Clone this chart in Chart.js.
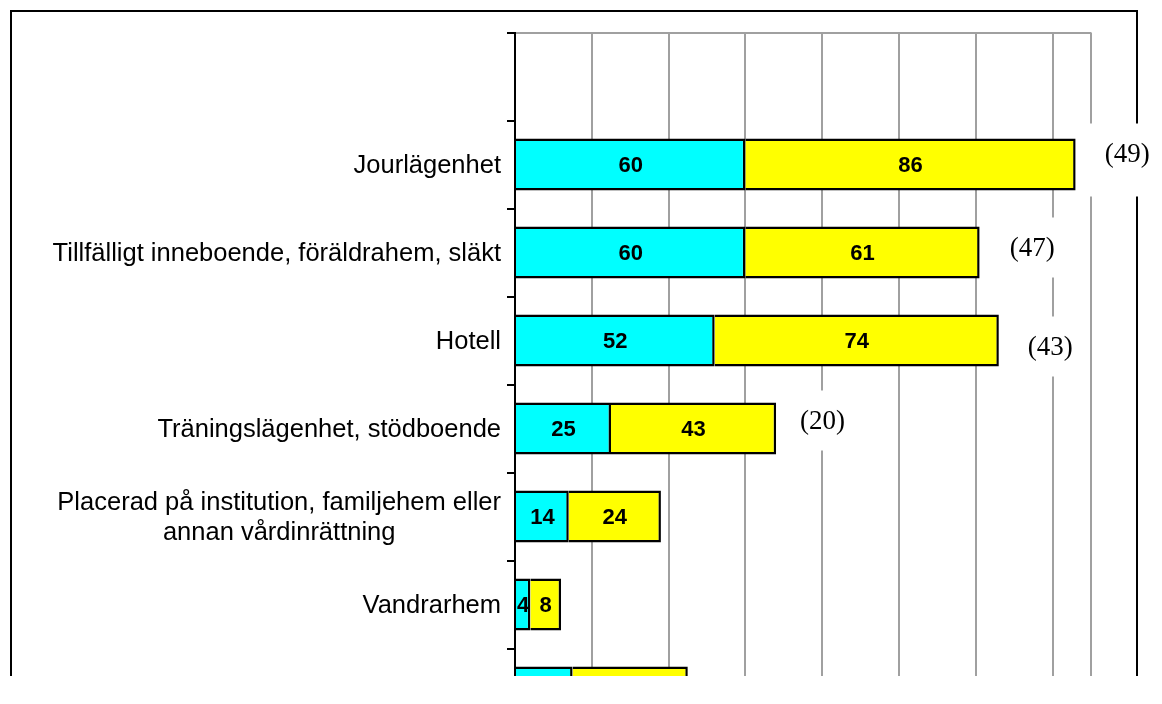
<!DOCTYPE html>
<html><head><meta charset="utf-8">
<script src="https://cdn.jsdelivr.net/npm/chart.js@4/dist/chart.umd.min.js"></script>
<style>
html,body{margin:0;padding:0;background:#fff;}
#wrap{position:relative;width:1162px;height:676px;overflow:hidden;background:#fff;}
canvas{display:block;}
</style></head><body>
<div id="wrap"><canvas id="c" width="1162" height="760"></canvas></div>
<script>
// ---- data ----
const categories = [
  "",
  "Jourlägenhet",
  "Tillfälligt inneboende, föräldrahem, släkt",
  "Hotell",
  "Träningslägenhet, stödboende",
  ["Placerad på institution, familjehem eller", "annan vårdinrättning"],
  "Vandrarhem",
  ""
];
const seriesCyan   = [null, 60, 60, 52, 25, 14, 4, 15];
const seriesYellow = [null, 86, 61, 74, 43, 24, 8, 30];
const respondents  = [null, 49, 47, 43, 20, null, null, null];
const xTickValues  = [0, 20, 40, 60, 80, 100, 120, 140, 150];

// ---- drawing helpers ----
const SANS = '"Liberation Sans", Arial, sans-serif';
const SERIF = '"Liberation Serif", "Times New Roman", serif';

const decor = {
  id: 'decor',
  beforeDraw(chart) {
    const ctx = chart.ctx;
    ctx.save();
    ctx.fillStyle = '#fff';
    ctx.fillRect(0, 0, chart.width, chart.height);
    ctx.strokeStyle = '#000';
    ctx.lineWidth = 2;
    ctx.beginPath();
    ctx.moveTo(11, chart.height + 10);
    ctx.lineTo(11, 11);
    ctx.lineTo(1137, 11);
    ctx.lineTo(1137, chart.height + 10);
    ctx.stroke();
    ctx.restore();
  },
  afterDatasetsDraw(chart, args, opts) {
    const ctx = chart.ctx;
    const yScale = chart.scales.y;
    const area = chart.chartArea;
    ctx.save();
    // category labels
    ctx.fillStyle = '#000';
    ctx.font = '25.5px ' + SANS;
    ctx.textBaseline = 'middle';
    const right = area.left - 14;
    categories.forEach((lab, i) => {
      const lines = Array.isArray(lab) ? lab : [lab];
      if (!lines.join('')) return;
      const y0 = yScale.getPixelForValue(i);
      const lh = 30;
      const widest = Math.max(...lines.map(l => ctx.measureText(l).width));
      ctx.textAlign = 'center';
      lines.forEach((l, k) => {
        const y = y0 + (k - (lines.length - 1) / 2) * lh;
        ctx.fillText(l, right - widest / 2, y + 1);
      });
    });
    // values inside bars
    ctx.font = 'bold 22px ' + SANS;
    ctx.textAlign = 'center';
    chart.data.datasets.forEach((ds, di) => {
      const meta = chart.getDatasetMeta(di);
      meta.data.forEach((bar, i) => {
        const v = ds.data[i];
        if (v === null || v === undefined) return;
        ctx.fillText(String(v), (bar.x + bar.base) / 2, bar.y + 1);
      });
    });
    // respondent counts with white boxes
    ctx.font = '27px ' + SERIF;
    ctx.textAlign = 'left';
    const last = chart.getDatasetMeta(chart.data.datasets.length - 1);
    respondents.forEach((n, i) => {
      if (n === null) return;
      const bar = last.data[i];
      const txt = '(' + n + ')';
      const w = ctx.measureText(txt).width;
      const x = bar.x + opts.dx[i];
      const y = bar.y + opts.dy[i];
      ctx.fillStyle = '#fff';
      ctx.fillRect(x - 17, y - 30, w + 34, 60 + opts.extraBottom[i]);
      ctx.fillStyle = '#000';
      ctx.fillText(txt, x, y + 1);
    });
    ctx.restore();
  }
};

const gridGray = '#a0a0a0';

new Chart(document.getElementById('c'), {
  type: 'bar',
  data: {
    labels: categories,
    datasets: [
      { data: seriesCyan, backgroundColor: '#00ffff', borderColor: '#000', borderWidth: 2.5 },
      { data: seriesYellow, backgroundColor: '#ffff00', borderColor: '#000', borderWidth: 2.5 }
    ]
  },
  options: {
    indexAxis: 'y',
    responsive: false,
    animation: false,
    devicePixelRatio: 1,
    layout: { padding: { left: 0, right: 71, top: 32.5, bottom: 0 } },
    datasets: { bar: { categoryPercentage: 1, barPercentage: 0.59 } },
    plugins: {
      legend: { display: false },
      tooltip: { enabled: false },
      decor: {
        dx: [0, 29, 30, 29, 24, 0, 0, 0],
        dy: [0, -11, -5, 6, -8, 0, 0, 0],
        extraBottom: [0, 13, 0, 0, 0, 0, 0, 0]
      }
    },
    scales: {
      x: {
        stacked: true,
        min: xTickValues[0], max: xTickValues[xTickValues.length - 1],
        afterBuildTicks(axis) { axis.ticks = xTickValues.map(v => ({ value: v })); },
        ticks: { color: '#000', font: { family: SANS, size: 18 } },
        grid: { color: gridGray, lineWidth: 2, drawTicks: false },
        border: { display: false },
        afterFit(axis) { axis.height = 23.5; }
      },
      y: {
        stacked: true,
        ticks: { display: false },
        grid: {
          offset: true,
          drawOnChartArea: true,
          color: ctx => ctx.index === 0 ? gridGray : 'rgba(0,0,0,0)',
          lineWidth: 2,
          drawTicks: true,
          tickLength: 8,
          tickColor: '#000',
          tickWidth: 2
        },
        border: { display: true, color: '#000', width: 2 },
        afterFit(axis) { axis.width = 515; }
      }
    }
  },
  plugins: [decor]
});
</script>
</body></html>
